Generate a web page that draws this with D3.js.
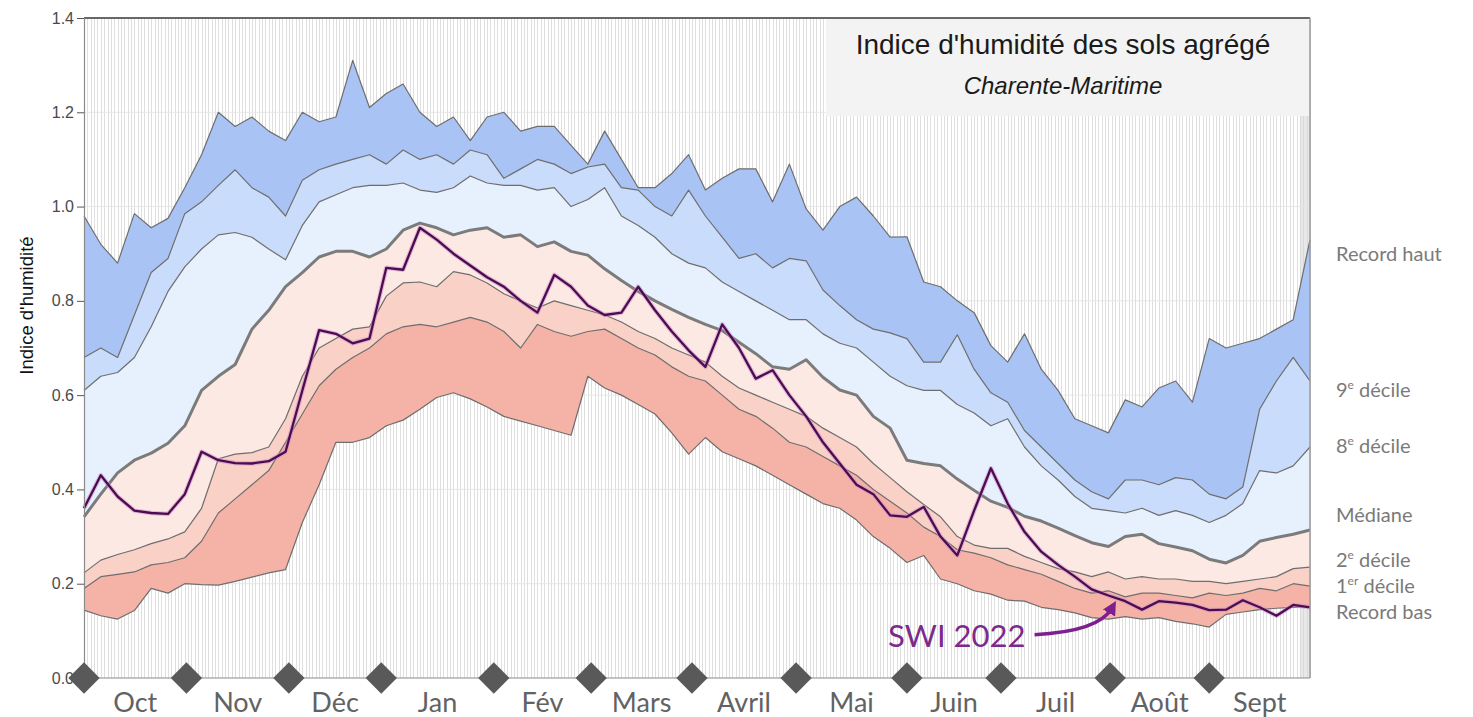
<!DOCTYPE html>
<html>
<head>
<meta charset="utf-8">
<script src="https://cdn.jsdelivr.net/npm/d3@7"></script>
<style>
  body { margin: 0; background: #fff; }
  svg { display: block; }
</style>
</head>
<body>
<svg id="chart"></svg>
<script>
// one value every 5 days, from 1 Oct to 30 Sept
var days = d3.range(0, 366, 5);

var recordHaut = [0.98, 0.92, 0.88, 0.985, 0.955, 0.975, 1.04, 1.11, 1.20, 1.17, 1.19, 1.16, 1.14, 1.20, 1.18, 1.19, 1.31, 1.21, 1.24, 1.26, 1.20, 1.17, 1.19, 1.14, 1.19, 1.20, 1.16, 1.17, 1.17, 1.13, 1.09, 1.16, 1.10, 1.04, 1.04, 1.07, 1.11, 1.035, 1.06, 1.08, 1.08, 1.01, 1.09, 0.995, 0.95, 1.00, 1.02, 0.98, 0.935, 0.936, 0.84, 0.83, 0.80, 0.775, 0.705, 0.67, 0.73, 0.655, 0.61, 0.55, 0.535, 0.52, 0.59, 0.575, 0.615, 0.63, 0.585, 0.72, 0.70, 0.71, 0.72, 0.74, 0.76, 0.93];
var decile9 = [0.68, 0.70, 0.68, 0.77, 0.86, 0.89, 0.985, 1.01, 1.045, 1.078, 1.04, 1.02, 0.98, 1.056, 1.078, 1.09, 1.10, 1.11, 1.09, 1.12, 1.10, 1.11, 1.09, 1.12, 1.11, 1.06, 1.08, 1.10, 1.09, 1.07, 1.084, 1.09, 1.04, 1.035, 1.00, 0.98, 1.035, 0.98, 0.935, 0.89, 0.90, 0.87, 0.89, 0.885, 0.823, 0.79, 0.76, 0.74, 0.732, 0.72, 0.67, 0.67, 0.728, 0.655, 0.605, 0.585, 0.525, 0.49, 0.455, 0.42, 0.395, 0.38, 0.42, 0.42, 0.41, 0.425, 0.42, 0.39, 0.38, 0.405, 0.57, 0.63, 0.68, 0.63];
var decile8 = [0.61, 0.64, 0.648, 0.68, 0.745, 0.82, 0.872, 0.91, 0.94, 0.945, 0.935, 0.91, 0.887, 0.96, 1.01, 1.025, 1.04, 1.045, 1.045, 1.05, 1.035, 1.03, 1.04, 1.065, 1.05, 1.045, 1.045, 1.035, 1.04, 1.0, 1.015, 1.04, 0.98, 0.96, 0.935, 0.90, 0.88, 0.87, 0.84, 0.82, 0.80, 0.78, 0.76, 0.76, 0.73, 0.71, 0.70, 0.67, 0.64, 0.62, 0.61, 0.61, 0.58, 0.562, 0.535, 0.55, 0.49, 0.45, 0.42, 0.385, 0.36, 0.355, 0.35, 0.36, 0.345, 0.355, 0.345, 0.33, 0.345, 0.37, 0.44, 0.435, 0.45, 0.49];
var mediane = [0.342, 0.39, 0.435, 0.462, 0.477, 0.498, 0.535, 0.61, 0.64, 0.665, 0.74, 0.78, 0.83, 0.86, 0.893, 0.905, 0.905, 0.893, 0.91, 0.95, 0.965, 0.955, 0.94, 0.95, 0.955, 0.935, 0.94, 0.915, 0.925, 0.905, 0.897, 0.868, 0.843, 0.82, 0.80, 0.782, 0.765, 0.75, 0.737, 0.712, 0.688, 0.66, 0.655, 0.675, 0.638, 0.611, 0.60, 0.555, 0.53, 0.462, 0.455, 0.45, 0.422, 0.398, 0.375, 0.362, 0.343, 0.333, 0.318, 0.302, 0.287, 0.279, 0.30, 0.305, 0.285, 0.278, 0.27, 0.252, 0.244, 0.26, 0.29, 0.298, 0.305, 0.314];
var decile2 = [0.223, 0.25, 0.262, 0.272, 0.285, 0.295, 0.31, 0.36, 0.465, 0.475, 0.478, 0.49, 0.55, 0.64, 0.70, 0.72, 0.74, 0.745, 0.81, 0.838, 0.84, 0.83, 0.862, 0.855, 0.838, 0.815, 0.80, 0.785, 0.80, 0.79, 0.78, 0.77, 0.755, 0.735, 0.72, 0.70, 0.685, 0.67, 0.64, 0.615, 0.60, 0.585, 0.57, 0.555, 0.53, 0.51, 0.49, 0.455, 0.425, 0.395, 0.368, 0.342, 0.30, 0.282, 0.275, 0.275, 0.258, 0.245, 0.232, 0.225, 0.215, 0.225, 0.21, 0.215, 0.21, 0.21, 0.205, 0.205, 0.20, 0.205, 0.21, 0.215, 0.232, 0.235];
var decile1 = [0.19, 0.215, 0.22, 0.225, 0.24, 0.245, 0.255, 0.29, 0.35, 0.38, 0.41, 0.44, 0.50, 0.56, 0.62, 0.655, 0.68, 0.70, 0.73, 0.745, 0.75, 0.745, 0.755, 0.765, 0.755, 0.735, 0.70, 0.75, 0.735, 0.725, 0.735, 0.74, 0.72, 0.70, 0.685, 0.66, 0.64, 0.63, 0.60, 0.57, 0.555, 0.53, 0.50, 0.49, 0.47, 0.45, 0.43, 0.40, 0.375, 0.35, 0.32, 0.30, 0.272, 0.265, 0.255, 0.24, 0.23, 0.22, 0.205, 0.19, 0.18, 0.185, 0.172, 0.18, 0.18, 0.175, 0.17, 0.18, 0.175, 0.18, 0.19, 0.185, 0.20, 0.195];
var recordBas = [0.144, 0.132, 0.125, 0.143, 0.19, 0.18, 0.20, 0.198, 0.197, 0.205, 0.214, 0.223, 0.23, 0.33, 0.41, 0.50, 0.50, 0.51, 0.535, 0.547, 0.57, 0.595, 0.605, 0.592, 0.575, 0.555, 0.545, 0.535, 0.525, 0.515, 0.64, 0.615, 0.60, 0.58, 0.56, 0.52, 0.475, 0.51, 0.48, 0.465, 0.45, 0.43, 0.41, 0.39, 0.37, 0.36, 0.335, 0.30, 0.275, 0.245, 0.26, 0.21, 0.20, 0.185, 0.178, 0.165, 0.163, 0.15, 0.145, 0.138, 0.128, 0.125, 0.13, 0.125, 0.128, 0.12, 0.115, 0.108, 0.135, 0.14, 0.145, 0.148, 0.15, 0.152];
var swi2022 = [0.36, 0.43, 0.385, 0.355, 0.35, 0.348, 0.39, 0.48, 0.462, 0.456, 0.455, 0.46, 0.48, 0.61, 0.738, 0.73, 0.71, 0.72, 0.87, 0.866, 0.955, 0.93, 0.90, 0.875, 0.85, 0.83, 0.80, 0.775, 0.855, 0.83, 0.79, 0.77, 0.775, 0.83, 0.78, 0.735, 0.695, 0.66, 0.75, 0.70, 0.635, 0.653, 0.60, 0.555, 0.50, 0.455, 0.41, 0.39, 0.345, 0.342, 0.363, 0.30, 0.26, 0.355, 0.445, 0.37, 0.31, 0.268, 0.24, 0.215, 0.188, 0.175, 0.163, 0.145, 0.163, 0.16, 0.155, 0.144, 0.145, 0.165, 0.15, 0.132, 0.155, 0.15];

var monthNames = ["Oct", "Nov", "Déc", "Jan", "Fév", "Mars", "Avril", "Mai", "Juin", "Juil", "Août", "Sept"];
var monthStarts = [0, 30.5, 61, 88.5, 122, 151, 181, 212, 245, 273, 305.5, 335, 365];
var yTicks = [0, 0.2, 0.4, 0.6, 0.8, 1.0, 1.2, 1.4];
var legendLabels = [["Record haut"], ["9", "e", " décile"], ["8", "e", " décile"], ["Médiane"], ["2", "e", " décile"], ["1", "er", " décile"], ["Record bas"]];

function SoilChart(svg) {

  var self = this;
  var WIDTH = 1473, HEIGHT = 717;
  var _svg, _container, _rows,
    _margin = {top: 18, right: 163, bottom: 39, left: 84},
    _x = d3.scaleLinear(),
    _y = d3.scaleLinear();

  var SERIES = [recordHaut, decile9, decile8, mediane, decile2, decile1, recordBas];
  var BAND_COLORS = ["#a9c3f4", "#c9dcfb", "#e7f0fd", "#fde9e3", "#f9d1c7", "#f5b3a7"];
  var LEGEND_AT = [0.885, 0.596, 0.477, 0.33, 0.235, 0.18, 0.125];

  self.render = function() {
    var left = _x.range()[0], right = _x.range()[1],
      top = _y.range()[1], bottom = _y.range()[0];

    // daily vertical hatching of the background
    _container.append("g").selectAll("line")
      .data(d3.range(0, 366))
      .enter().append("line")
      .attr("x1", function(d) { return Math.round(_x(d)) + 0.5; })
      .attr("x2", function(d) { return Math.round(_x(d)) + 0.5; })
      .attr("y1", top).attr("y2", bottom)
      .style("stroke", "#dfdfdf").style("stroke-width", 1);

    _container.append("rect")
      .attr("x", _x(362)).attr("y", top)
      .attr("width", right - _x(362)).attr("height", bottom - top)
      .style("fill", "#d6d6d6").style("opacity", 0.55);

    _container.append("g").selectAll("line")
      .data(yTicks.slice(1))
      .enter().append("line")
      .attr("x1", left).attr("x2", right)
      .attr("y1", function(d) { return _y(d); })
      .attr("y2", function(d) { return _y(d); })
      .style("stroke", "#e6e6e6").style("stroke-width", 1);

    // title box
    _container.append("rect")
      .attr("x", 826).attr("y", top)
      .attr("width", right - 826).attr("height", 98)
      .style("fill", "#f3f3f3");

    _container.append("text")
      .attr("x", 1063).attr("y", 54)
      .attr("text-anchor", "middle")
      .style("font-family", "'Liberation Sans', Arial, sans-serif")
      .style("font-size", "28px")
      .style("fill", "#1a1a1a")
      .text("Indice d'humidité des sols agrégé");

    _container.append("text")
      .attr("x", 1063).attr("y", 94)
      .attr("text-anchor", "middle")
      .style("font-family", "'Liberation Sans', Arial, sans-serif")
      .style("font-style", "italic")
      .style("font-size", "24px")
      .style("fill", "#1a1a1a")
      .text("Charente-Maritime");

    // bands between the statistic curves
    BAND_COLORS.forEach(function(color, k) {
      var band = d3.area()
        .x(function(d) { return _x(d.day); })
        .y0(function(d) { return _y(d.values[k + 1]); })
        .y1(function(d) { return _y(d.values[k]); });
      _container.append("path")
        .datum(_rows)
        .attr("class", "band")
        .attr("d", band)
        .style("fill", color);
    });

    SERIES.forEach(function(s, k) {
      var line = d3.line()
        .x(function(d) { return _x(d.day); })
        .y(function(d) { return _y(d.values[k]); });
      _container.append("path")
        .datum(_rows)
        .attr("d", line)
        .style("fill", "none")
        .style("stroke", k == 3 ? "#7b7b7b" : "#6e6e6e")
        .style("stroke-width", k == 3 ? 3 : 1.2)
        .style("stroke-linejoin", "round");
    });

    var swiLine = d3.line()
      .x(function(d) { return _x(d.day); })
      .y(function(d) { return _y(d.swi); });

    _container.append("path")
      .datum(_rows)
      .attr("d", swiLine)
      .style("fill", "none")
      .style("stroke", "#c78fc8")
      .style("stroke-width", 4.5)
      .style("opacity", 0.55)
      .style("stroke-linejoin", "round");

    _container.append("path")
      .datum(_rows)
      .attr("d", swiLine)
      .style("fill", "none")
      .style("stroke", "#4e0b52")
      .style("stroke-width", 2.3)
      .style("stroke-linejoin", "round");

    // frame
    _container.append("line")
      .attr("x1", left).attr("x2", right).attr("y1", top).attr("y2", top)
      .style("stroke", "#3a3a3a").style("stroke-width", 1.5);
    _container.append("line")
      .attr("x1", right).attr("x2", right).attr("y1", top).attr("y2", bottom)
      .style("stroke", "#9a9a9a").style("stroke-width", 1.5);
    _container.append("line")
      .attr("x1", left).attr("x2", right).attr("y1", bottom).attr("y2", bottom)
      .style("stroke", "#8a8a8a").style("stroke-width", 1.2);

    var yAxis = _container.append("g")
      .attr("transform", "translate(" + left + ",0)")
      .call(d3.axisLeft(_y).tickValues(yTicks).tickSize(7).tickPadding(3).tickFormat(d3.format(".1f")));
    yAxis.select(".domain").style("stroke", "#8a8a8a").style("stroke-width", 1.2);
    yAxis.selectAll(".tick line").style("stroke", "#555");
    yAxis.selectAll(".tick text")
      .style("font-family", "'Liberation Sans', Arial, sans-serif")
      .style("font-size", "16px")
      .style("fill", "#4a4a4a");

    _container.append("text")
      .attr("transform", "translate(33," + _y(0.79) + ") rotate(-90)")
      .attr("text-anchor", "middle")
      .style("font-family", "'Liberation Sans', Arial, sans-serif")
      .style("font-size", "18.5px")
      .style("fill", "#111")
      .text("Indice d'humidité");

    // month marks
    _container.append("g").selectAll("path")
      .data(monthStarts.slice(0, 12))
      .enter().append("path")
      .attr("d", d3.symbol().type(d3.symbolSquare).size(490))
      .attr("transform", function(d) { return "translate(" + _x(d) + "," + bottom + ") rotate(45)"; })
      .style("fill", "#595959");

    _container.append("g").selectAll("text")
      .data(monthNames)
      .enter().append("text")
      .attr("x", function(d, i) { return _x((monthStarts[i] + monthStarts[i + 1]) / 2); })
      .attr("y", 712)
      .attr("text-anchor", "middle")
      .style("font-family", "Lato, 'Open Sans', sans-serif")
      .style("font-size", "27px")
      .style("fill", "#626262")
      .text(function(d) { return d; });

    // labels on the right
    _container.append("g").selectAll("text")
      .data(legendLabels)
      .enter().append("text")
      .attr("x", 1336)
      .attr("y", function(d, i) { return _y(LEGEND_AT[i]); })
      .style("font-family", "Lato, 'Open Sans', sans-serif")
      .style("font-size", "20px")
      .style("fill", "#7a7a7a")
      .each(function(d) {
        var t = d3.select(this);
        t.append("tspan").text(d[0]);
        if (d.length > 1) {
          t.append("tspan").attr("dy", -8).style("font-size", "12px").text(d[1]);
          t.append("tspan").attr("dy", 8).text(d[2]);
        }
      });

    // SWI 2022 annotation
    var defs = _svg.append("defs");
    defs.append("marker")
      .attr("id", "arrow")
      .attr("viewBox", "0 0 10 10")
      .attr("refX", 4).attr("refY", 5)
      .attr("markerWidth", 4).attr("markerHeight", 4)
      .attr("orient", "auto")
      .append("path")
      .attr("d", "M0,0L10,5L0,10z")
      .style("fill", "#7d1f8e");

    var p = d3.path();
    p.moveTo(_x(283), _y(0.092));
    p.quadraticCurveTo(_x(302), _y(0.098), _x(306), _y(0.148));
    _container.append("path")
      .attr("d", p.toString())
      .attr("marker-end", "url(#arrow)")
      .style("fill", "none")
      .style("stroke", "#7d1f8e")
      .style("stroke-width", 3.5);

    _container.append("text")
      .attr("x", _x(239.4)).attr("y", _y(0.066))
      .style("font-family", "Lato, 'Open Sans', sans-serif")
      .style("font-size", "31px")
      .style("fill", "#7b2a8c")
      .text("SWI 2022");
  }

  self.data = function() {
    _rows = days.map(function(d, i) {
      return {day: d, values: SERIES.map(function(s) { return s[i]; }), swi: swi2022[i]};
    });
  }

  self.setSize = function(width, height) {
    _svg.attr("width", width).attr("height", height);
    _x.domain([0, 365]).range([_margin.left, width - _margin.right]);
    _y.domain([0, 1.4]).range([height - _margin.bottom, _margin.top]);
  }

  function init(svg) {
    _svg = d3.select(svg);
    _container = _svg.append("g");
    self.setSize(WIDTH, HEIGHT);
  };

  init(svg);
}

var chart = new SoilChart("#chart");
chart.data();
chart.render();
</script>
</body>
</html>
